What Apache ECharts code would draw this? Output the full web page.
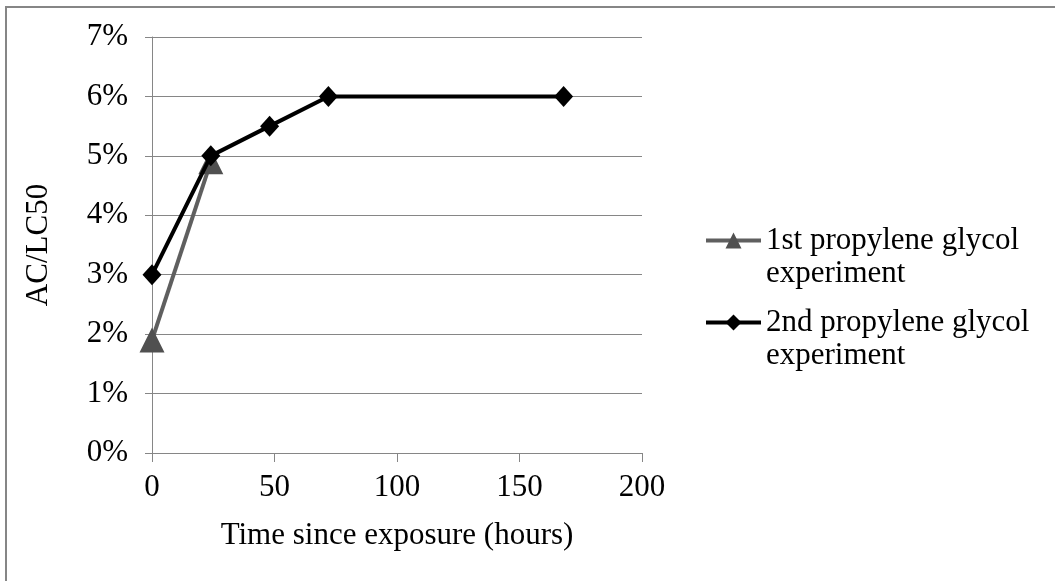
<!DOCTYPE html>
<html>
<head>
<meta charset="utf-8">
<script src="https://cdn.jsdelivr.net/npm/echarts@6/dist/echarts.min.js"></script>
<style>
html,body{margin:0;padding:0;background:#fff;}
#chart{width:1055px;height:581px;}
</style>
</head>
<body>
<div id="chart"></div>
<script>
// Data
var hours1 = [0, 24];
var ratio1 = [0.019, 0.049];
var hours2 = [0, 24, 48, 72, 168];
var ratio2 = [0.03, 0.05, 0.055, 0.06, 0.06];
var seriesNames = ['1st propylene glycol\nexperiment', '2nd propylene glycol\nexperiment'];
var xAxisTitle = 'Time since exposure (hours)';
var yAxisTitle = 'AC/LC50';

var FONT = '"Liberation Serif", "Times New Roman", serif';
var GRAY = '#868686';
var FS = 31;

function pairs(xs, ys) { return xs.map(function (x, i) { return [x, ys[i]]; }); }

var chart = echarts.init(document.getElementById('chart'), null, {renderer: 'canvas'});
chart.setOption({
  backgroundColor: '#fff',
  animation: false,
  textStyle: {fontFamily: FONT},
  graphic: [
    {type: 'line', shape: {x1: 5, y1: 7, x2: 1055, y2: 7}, style: {stroke: GRAY, lineWidth: 2}},
    {type: 'line', shape: {x1: 6, y1: 6, x2: 6, y2: 581}, style: {stroke: GRAY, lineWidth: 2}}
  ],
  grid: {left: 152, right: 413, top: 37, bottom: 128, containLabel: false},
  xAxis: {
    type: 'value', min: 0, max: 200, interval: 50,
    name: xAxisTitle, nameLocation: 'middle', nameGap: 67,
    nameTextStyle: {fontFamily: FONT, fontSize: FS, color: '#000'},
    axisLine: {show: true, lineStyle: {color: GRAY, width: 1}},
    axisTick: {show: true, inside: false, length: 9, lineStyle: {color: GRAY}},
    axisLabel: {fontFamily: FONT, fontSize: FS, color: '#000', margin: 19},
    splitLine: {show: false}
  },
  yAxis: {
    type: 'value', min: 0, max: 0.07, interval: 0.01,
    name: yAxisTitle, nameLocation: 'middle', nameGap: 98, nameRotate: 90,
    nameTextStyle: {fontFamily: FONT, fontSize: FS, color: '#000'},
    axisLine: {show: true, lineStyle: {color: GRAY, width: 1}},
    axisTick: {show: true, inside: false, length: 7, lineStyle: {color: GRAY}},
    axisLabel: {fontFamily: FONT, fontSize: FS, color: '#000', margin: 24,
      formatter: function (v) { return Math.round(v * 100) + '%'; }},
    splitLine: {show: true, lineStyle: {color: GRAY, width: 1}}
  },
  legend: {
    orient: 'vertical', left: 704, top: 191, padding: 0,
    itemWidth: 55, itemHeight: 20, itemGap: -17,
    lineStyle: {width: 4},
    formatter: function (n) { return '\n' + n; },
    textStyle: {fontFamily: FONT, fontSize: FS, color: '#000', lineHeight: 33},
    data: seriesNames
  },
  series: [
    {
      name: seriesNames[0], type: 'line', data: pairs(hours1, ratio1),
      symbol: 'triangle', symbolSize: 25,
      lineStyle: {color: '#5f5f5f', width: 4},
      itemStyle: {color: '#505050'},
      z: 2
    },
    {
      name: seriesNames[1], type: 'line', data: pairs(hours2, ratio2),
      symbol: 'diamond', symbolSize: [19, 21],
      lineStyle: {color: '#000', width: 4},
      itemStyle: {color: '#000'},
      z: 3
    }
  ]
});
</script>
</body>
</html>
